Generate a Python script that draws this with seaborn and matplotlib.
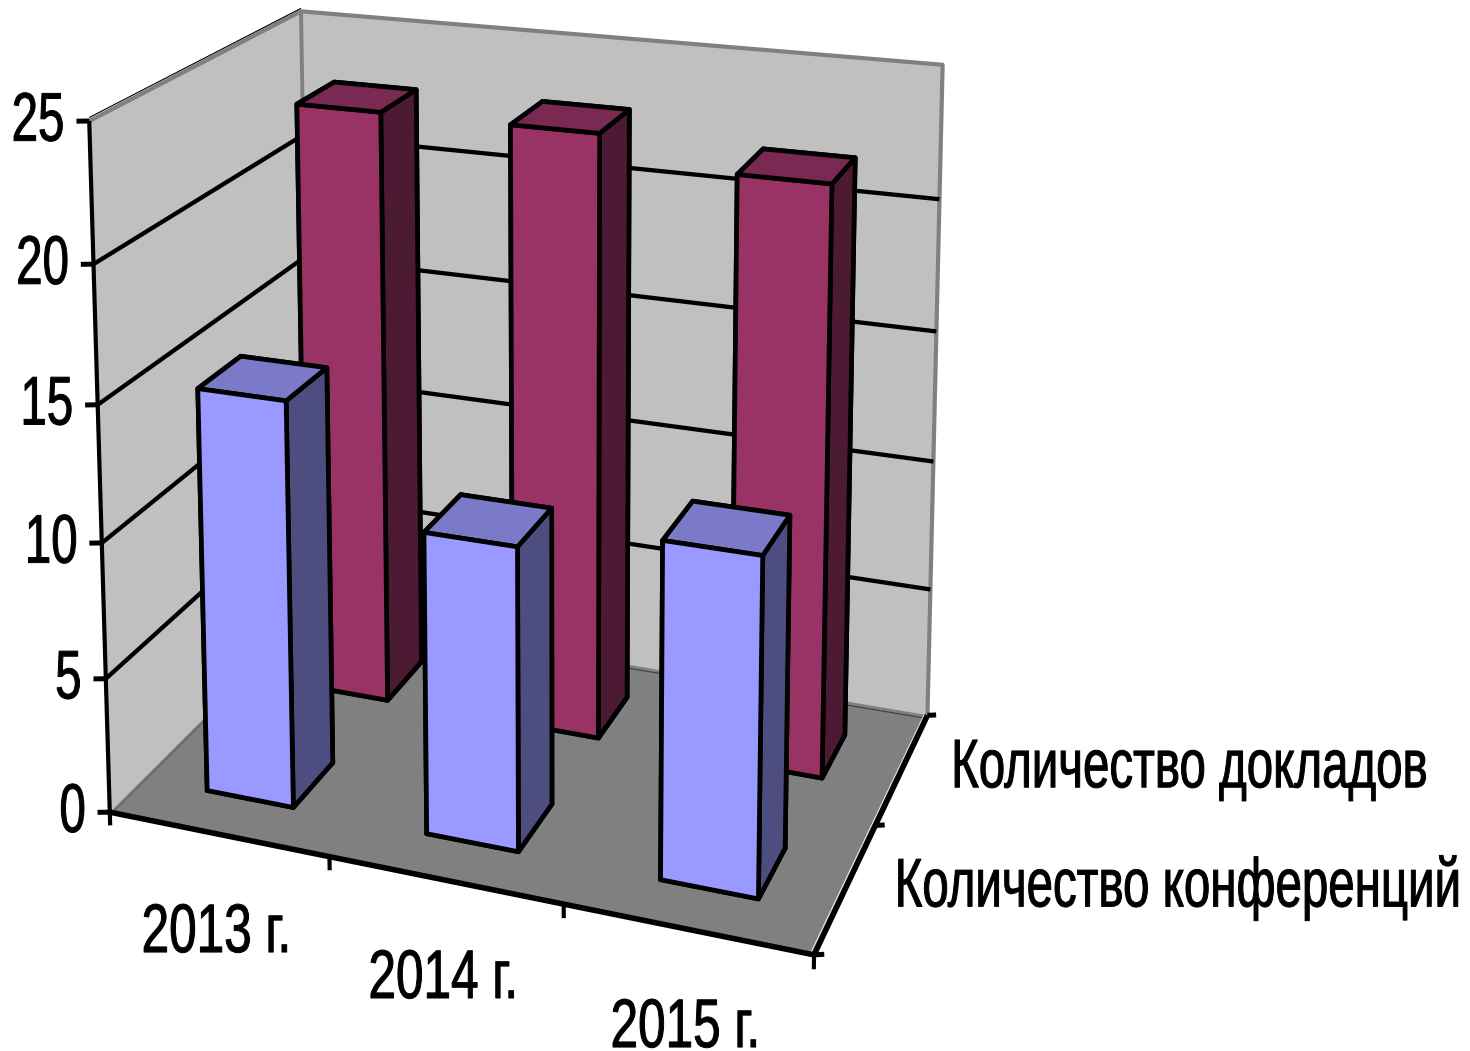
import numpy as np
import seaborn as sns
import matplotlib.pyplot as plt
from matplotlib.patheffects import AbstractPathEffect
from matplotlib.text import Text
from matplotlib.transforms import Affine2D, Bbox
from mpl_toolkits.mplot3d.art3d import Poly3DCollection

years = ['2013 г.', '2014 г.', '2015 г.']
series = ['Количество конференций', 'Количество докладов']
conferences = [15, 11, 12]
reports = [23, 23, 22]
z_ticks = [0, 5, 10, 15, 20, 25]

W, H = 1470, 1051

sns.set_theme(style='white', rc={'lines.solid_capstyle': 'butt'})
plt.rcParams['font.family'] = ['Liberation Sans', 'DejaVu Sans']


# the chart font is a condensed one, none is installed so squeeze the glyphs
class Squeeze(AbstractPathEffect):
    def __init__(self, ha, squeeze):
        super().__init__()
        self.ha = ha
        self.squeeze = squeeze

    def draw_path(self, renderer, gc, tpath, affine, rgbFace=None):
        ext = tpath.get_extents()
        a = {'left': ext.x0, 'center': (ext.x0 + ext.x1) / 2, 'right': ext.x1}[self.ha]
        tr = Affine2D().translate(-a, 0).scale(self.squeeze, 1).translate(a, 0) + affine
        gc0 = renderer.new_gc()
        gc0.copy_properties(gc)
        gc0.set_linewidth(0.7)
        renderer.draw_path(gc0, tpath, tr, rgbFace)
        gc0.restore()


class NarrowText(Text):
    squeeze = 1.0

    def get_window_extent(self, renderer=None, dpi=None):
        bb = super().get_window_extent(renderer, dpi)
        a = {'left': bb.x0, 'center': (bb.x0 + bb.x1) / 2, 'right': bb.x1}[self.get_ha()]
        s = self.squeeze
        return Bbox.from_extents(a + (bb.x0 - a) * s, bb.y0, a + (bb.x1 - a) * s, bb.y1)


# camera fitted to the corners of the plot box (x, y, z) -> pixel
box = [(0, 0, 0), (3, 0, 0), (3, 2, 0), (0, 2, 0), (0, 0, 25), (0, 2, 25), (3, 2, 25)]
pix = [(110, 813), (813, 955), (928, 715), (311, 611), (90, 120), (300, 12), (943, 65)]
A, b = [], []
for (x, y, z), (u, v) in zip(box, pix):
    A.append([x, y, z, 1, 0, 0, 0, 0, -u * x, -u * y, -u * z])
    A.append([0, 0, 0, 0, x, y, z, 1, -v * x, -v * y, -v * z])
    b += [u, v]
p = np.linalg.lstsq(np.array(A, float), np.array(b, float), rcond=None)[0]
cam = np.array([[p[0], p[1], p[2], p[3]],
                [p[4], p[5], p[6], p[7]],
                [0, 0, 0, -0.5],
                [p[8], p[9], p[10], 1]])
# pixels to the -1..1 range mplot3d wants
to_ndc = np.array([[2 / W, 0, 0, -1],
                   [0, -2 / H, 0, 1],
                   [0, 0, 1, 0],
                   [0, 0, 0, 1]])
M = to_ndc @ cam


def project(x, y, z):
    h = cam @ np.array([x, y, z, 1.0])
    return h[0] / h[3], h[1] / h[3]


fig = plt.figure(figsize=(W / 100, H / 100), dpi=100, facecolor='white')
ax = fig.add_axes([0, 0, 1, 1], projection='3d')
ax.computed_zorder = False
ax.set_axis_off()
ax.patch.set_visible(False)
ax.get_proj = lambda: M
ax.apply_aspect = lambda position=None: None
ax.viewLim.intervalx = (-1, 1)
ax.viewLim.intervaly = (-1, 1)


def label(u, v, s, ha, squeeze=0.69):
    t = NarrowText(u / W, 1 - v / H, s, ha=ha, va='baseline', fontsize=49.5, color='black',
                   transform=fig.transFigure, path_effects=[Squeeze(ha, squeeze)])
    t.squeeze = squeeze
    fig.add_artist(t)


# walls and floor
walls = [[(0, 0, 0), (0, 2, 0), (0, 2, 25), (0, 0, 25)],
         [(0, 2, 0), (3, 2, 0), (3, 2, 25), (0, 2, 25)]]
ax.add_collection3d(Poly3DCollection(walls, facecolors='#c0c0c0', edgecolors='none', zorder=1))
ax.add_collection3d(Poly3DCollection([[(0, 0, 0), (3, 0, 0), (3, 2, 0), (0, 2, 0)]],
                                     facecolors='#808080', edgecolors='#808080', zorder=2))
ax.plot([0, 0, 3, 3], [0, 2, 2, 2], [25, 25, 25, 0], color='#808080', lw=3.0, zorder=3)
ax.plot([0, 0], [2, 2], [0, 25], color='#808080', lw=2.8, zorder=3)
ax.plot([0, 0], [0, 2], [25.12, 25.12], color='black', lw=0.8, zorder=3)
ax.plot([0.012, 0.012], [0, 2], [0, 0], color='#5a5a5a', lw=0.7, zorder=3)
ax.plot([0, 3], [1.97, 1.97], [0, 0], color='#3c3c3c', lw=0.8, zorder=3)
ax.plot([2.985, 2.985], [0, 2], [0, 0], color='#e8e8e8', lw=0.8, zorder=3)

# gridlines on both walls
for t in z_ticks[1:-1]:
    ax.plot([0, 0, 3], [0, 2, 2], [t, t, t], color='black', lw=3.1, zorder=4)

# bars, back row first
width = 0.4
pal = {0: ['#7a7ac8', '#9999ff', '#4d4d80'],
       1: ['#7a2952', '#993366', '#4d1a33']}
for row, vals in [(1, reports), (0, conferences)]:
    top, front, side = pal[row]
    for i, v in enumerate(vals):
        ax.bar3d(i + 0.5 - width / 2, row + 0.5 - width / 2, 0, width, width, v,
                 color=[top, top, front, side, side, side],
                 shade=False, edgecolor='black', linewidth=3.4, zorder=5 + (1 - row) * 10 + i)

# axes lines and ticks
ax.plot([0, 0], [0, 0], [0, 25], color='black', lw=3.0, zorder=30)
ax.plot([0, 3, 3], [0, 0, 2], [0, 0, 0], color='black', lw=4.0, zorder=30)
for t in z_ticks:
    ax.plot([-0.047, 0], [-0.019, 0], [t, t], color='black', lw=3.6, zorder=30)
    u, v = project(-0.047, -0.019, t)
    label(u - 11, v + 19.5, str(t), 'right')
for i in range(0, 4):
    ax.plot([i, i], [0, 0], [0, -0.5], color='black', lw=3.0, zorder=30)
for j in range(3):
    ax.plot([3, 3.035], [j, j + 0.017], [0, 0], color='black', lw=3.6, zorder=30)

for i, lab in enumerate(years):
    u, v = project(i + 0.5, 0, 0)
    label(u - 1, v + 118, lab, 'center', squeeze=0.72)
for j, lab in enumerate(series):
    u, v = project(3, j + 0.5, 0)
    label(u + 47, v + 19, lab, 'left')

fig.savefig('out.png', dpi=100)
